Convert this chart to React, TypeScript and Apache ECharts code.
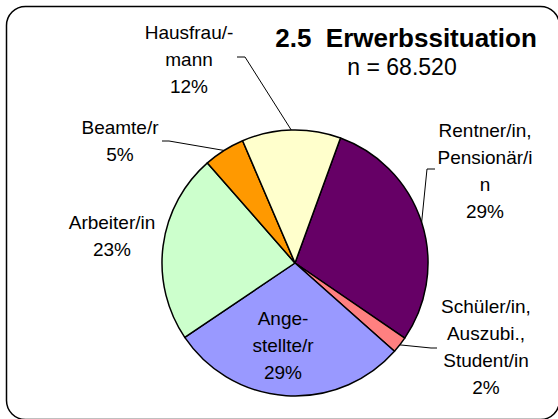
import React, { useEffect, useRef } from "react";
import * as echarts from "echarts";

// Data
const categories = [
  "Rentner/in,\nPensionär/i\nn",
  "Schüler/in,\nAuszubi.,\nStudent/in",
  "Ange-\nstellte/r",
  "Arbeiter/in",
  "Beamte/r",
  "Hausfrau/-\nmann",
];
const shares = [29, 2, 29, 23, 5, 12];
const sliceColors = ["#660066", "#FF8080", "#9999FF", "#CCFFCC", "#FF9900", "#FFFFCC"];
const titleText = "2.5  Erwerbssituation";
const subtitleText = "n = 68.520";

// Layout (label anchors and leader line bends, in px)
const labelAnchors: number[][] = [
  [485, 171],
  [486, 347],
  [283, 345],
  [112, 236],
  [120, 141],
  [189, 59],
];
const leaderBends: (number[][] | null)[] = [
  [[427, 169], [435, 169]],
  [[431, 348], [437, 348]],
  null,
  null,
  [[169, 141], [162, 141]],
  [[245, 57], [237, 57]],
];

const FONT = "'Liberation Sans', Arial, sans-serif";

export default function App() {
  const ref = useRef<HTMLDivElement>(null);

  useEffect(() => {
    if (!ref.current) return;
    const chart = echarts.init(ref.current, undefined, { renderer: "svg" });

    const data = categories.map((name, i) => {
      const item: any = {
        name,
        value: shares[i],
        itemStyle: { color: sliceColors[i] },
      };
      if (i === 2) {
        item.label = { position: "inside" };
        item.labelLine = { show: false };
      }
      if (i === 3) {
        item.labelLine = { show: false };
      }
      return item;
    });

    chart.setOption({
      animation: false,
      backgroundColor: "#ffffff",
      graphic: [
        {
          type: "rect",
          z: -10,
          shape: { x: 6.5, y: 6.5, width: 553, height: 413, r: 19 },
          style: { fill: "none", stroke: "#000", lineWidth: 1.5 },
          silent: true,
        },
        {
          type: "text",
          x: 406,
          y: 38,
          style: {
            text: titleText,
            fontFamily: FONT,
            fontSize: 26,
            fontWeight: "bold",
            fill: "#000",
            align: "center",
            verticalAlign: "middle",
          },
        },
        {
          type: "text",
          x: 402,
          y: 67,
          style: {
            text: subtitleText,
            fontFamily: FONT,
            fontSize: 23,
            fill: "#000",
            align: "center",
            verticalAlign: "middle",
          },
        },
      ],
      series: [
        {
          type: "pie",
          center: [295, 263],
          radius: 133,
          startAngle: 70,
          clockwise: true,
          avoidLabelOverlap: false,
          silent: true,
          itemStyle: { borderColor: "#000", borderWidth: 1.5 },
          label: {
            show: true,
            position: "outside",
            color: "#000",
            fontFamily: FONT,
            fontSize: 19,
            lineHeight: 27,
            align: "center",
            formatter: (p: any) => `${p.name}\n${p.value}%`,
          },
          labelLine: {
            show: true,
            length: 10,
            length2: 10,
            smooth: false,
            lineStyle: { color: "#000", width: 1 },
          },
          labelLayout: (params: any) => {
            const i = params.dataIndex;
            const anchor = labelAnchors[i];
            const res: any = {
              x: anchor[0],
              y: anchor[1],
              align: "center",
              verticalAlign: "middle",
            };
            const bends = leaderBends[i];
            if (bends && params.labelLinePoints && params.labelLinePoints[0]) {
              const p0 = params.labelLinePoints[0];
              res.labelLinePoints = [[p0[0], p0[1]], bends[0], bends[1]];
            }
            return res;
          },
          data,
        },
      ],
    });

    return () => chart.dispose();
  }, []);

  return (
    <div
      ref={ref}
      style={{ position: "absolute", left: 0, top: 0, width: 558, height: 419 }}
    />
  );
}
